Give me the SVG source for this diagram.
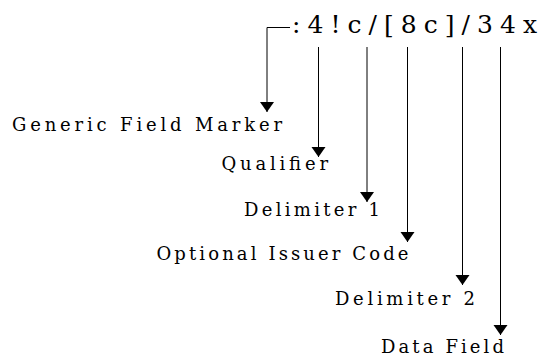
<svg xmlns="http://www.w3.org/2000/svg" width="541" height="357" viewBox="0 0 541 357">
  <style>
    text { font-family: 'DejaVu Serif', 'Liberation Serif', 'Times New Roman', serif; fill: #000; }
    .lbl { font-size: 18px; }
    .code { font-size: 25px; }
    .conn { fill: none; stroke: #000; stroke-width: 1; }
  </style>
  <defs>
    <marker id="arrow" markerUnits="userSpaceOnUse" markerWidth="11" markerHeight="15" refX="10" refY="7" orient="auto">
      <path d="M0,0 L10,7 L0,14 z" fill="#000"/>
    </marker>
  </defs>
  <rect width="541" height="357" fill="#fff"/>

  <g id="format">
    <text class="code" x="292" y="33" textLength="245" lengthAdjust="spacing">:4!c/[8c]/34x</text>
  </g>

  <g id="connectors">
    <path class="conn" d="M290,27.5 H267 V112" marker-end="url(#arrow)"/>
    <path class="conn" d="M318.5,47 V157" marker-end="url(#arrow)"/>
    <path class="conn" d="M367,47 V202" marker-end="url(#arrow)"/>
    <path class="conn" d="M407.5,47 V242" marker-end="url(#arrow)"/>
    <path class="conn" d="M462.5,47 V285" marker-end="url(#arrow)"/>
    <path class="conn" d="M500.5,47 V335" marker-end="url(#arrow)"/>
  </g>

  <g id="generic-field-marker">
    <text class="lbl" x="12" y="131" textLength="270" lengthAdjust="spacing">Generic Field Marker</text>
  </g>
  <g id="qualifier">
    <text class="lbl" x="221.5" y="170" textLength="106.5" lengthAdjust="spacing">Qualifier</text>
  </g>
  <g id="delimiter-1">
    <text class="lbl" x="244" y="216" textLength="136" lengthAdjust="spacing">Delimiter 1</text>
  </g>
  <g id="optional-issuer-code">
    <text class="lbl" x="156.5" y="260" textLength="252" lengthAdjust="spacing">Optional Issuer Code</text>
  </g>
  <g id="delimiter-2">
    <text class="lbl" x="335" y="304.5" textLength="140" lengthAdjust="spacing">Delimiter 2</text>
  </g>
  <g id="data-field">
    <text class="lbl" x="381" y="353" textLength="123" lengthAdjust="spacing">Data Field</text>
  </g>
</svg>
